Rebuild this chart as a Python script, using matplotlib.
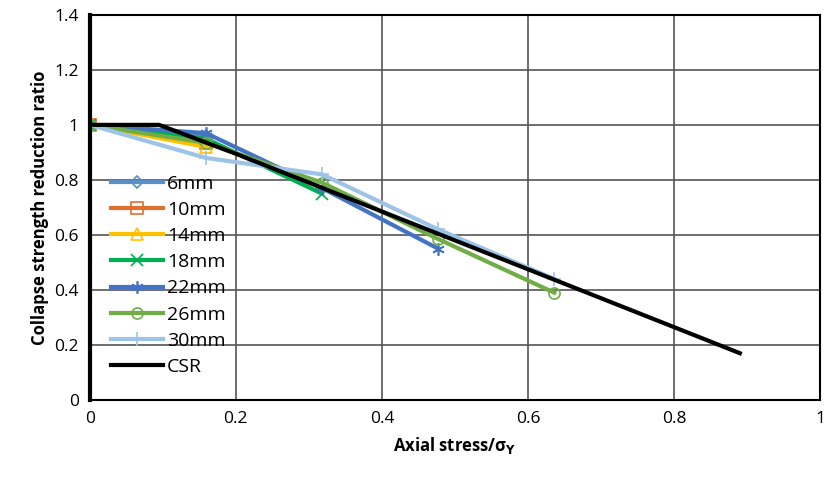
import matplotlib.pyplot as plt

plt.rcParams['font.family'] = ['Open Sans', 'DejaVu Sans']

# data
x_pts = [0.0, 0.159, 0.318, 0.477, 0.636]
r_6mm = [1.0, 0.96]
r_10mm = [1.0, 0.935]
r_14mm = [1.0, 0.92]
r_18mm = [1.0, 0.95, 0.75]
r_22mm = [1.0, 0.97, 0.77, 0.55]
r_26mm = [1.0, 0.935, 0.79, 0.585, 0.39]
r_30mm = [1.0, 0.88, 0.82, 0.62, 0.44]
csr_x = [0.0, 0.095, 0.2, 0.4, 0.6, 0.89]
csr_y = [1.0, 1.0, 0.895, 0.685, 0.475, 0.17]

series = [
    ("6mm", r_6mm, "#5B8FC7", "D", 6),
    ("10mm", r_10mm, "#E07030", "s", 8),
    ("14mm", r_14mm, "#FFC000", "^", 8),
    ("18mm", r_18mm, "#00B050", "x", 8),
    ("22mm", r_22mm, "#4472C4", (6, 2, 0), 9),
    ("26mm", r_26mm, "#70AD47", "o", 8),
    ("30mm", r_30mm, "#9DC3E6", "+", 10),
]

fig = plt.figure(figsize=(8.31, 4.79), dpi=100)
ax = fig.add_axes([0.108, 0.165, 0.879, 0.804])

for name, vals, col, mk, ms in series:
    ax.plot(x_pts[:len(vals)], vals, color=col, lw=3, marker=mk, ms=ms,
            mfc="none", mec=col, mew=1.2, label=name)
ax.plot(csr_x, csr_y, color="black", lw=3, label="CSR")

ax.set_xlim(0, 1)
ax.set_ylim(0, 1.4)
ax.set_xticks([0, 0.2, 0.4, 0.6, 0.8, 1])
ax.set_xticklabels(["0", "0.2", "0.4", "0.6", "0.8", "1"])
ax.set_yticks([0, 0.2, 0.4, 0.6, 0.8, 1, 1.2, 1.4])
ax.set_yticklabels(["0", "0.2", "0.4", "0.6", "0.8", "1", "1.2", "1.4"])
ax.tick_params(labelsize=12.5, length=0, pad=8)
ax.grid(True, color="#555555", lw=1.2)
ax.set_axisbelow(True)
for s in ax.spines.values():
    s.set_linewidth(1.5)
ax.spines["left"].set_linewidth(3)

ax.set_xlabel(r"Axial stress/σ$_\mathbf{Y}$", fontsize=12, fontweight="bold",
              labelpad=6)
ax.set_ylabel("Collapse strength reduction ratio", fontsize=12, fontweight="bold")

ax.legend(loc="upper left", bbox_to_anchor=(0.01, 0.62), frameon=False,
          fontsize=14, handlelength=2.7, labelspacing=0.42, borderaxespad=0.3,
          handletextpad=0.2)

fig.savefig("out.png", dpi=100)
